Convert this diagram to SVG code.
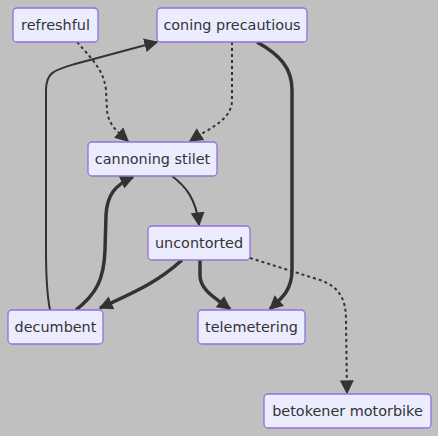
<svg xmlns="http://www.w3.org/2000/svg" width="438" height="436" viewBox="0 0 438 436">
<style>
.node rect{fill:#ececff;stroke:#9370db;stroke-width:1.3}
.node text{font-family:"DejaVu Sans",sans-serif;font-size:14.4px;fill:#333;text-anchor:middle;dominant-baseline:central}
.e{fill:none;stroke:#333}
.n{stroke-width:2}
.t{stroke-width:3.5}
.d{stroke-width:2;stroke-dasharray:3 3}
</style>
<defs>
<marker id="a" viewBox="0 0 10 10" refX="9" refY="5" markerWidth="14" markerHeight="14" markerUnits="userSpaceOnUse" orient="auto">
<path d="M0,0 L10,5 L0,10 z" fill="#333"/>
</marker>
</defs>
<rect width="438" height="436" fill="#c0c0c0"/>
<g id="connectors">
<path class="e d" d="M77,42 C95,62 104,72 106,90 L107,110 C108,125 118,132 128,141" marker-end="url(#a)"/>
<path class="e d" d="M232,42 L232,100 C232,120 210,128 190,141" marker-end="url(#a)"/>
<path class="e t" d="M257,42 C280,55 292,68 292,90 L292,270 C292,290 282,298 270,309" marker-end="url(#a)"/>
<path class="e n" d="M50,310 C46,290 46,270 46,250 L46,90 C46,72 55,70 75,64 L157,42" marker-end="url(#a)"/>
<path class="e t" d="M76,310 C96,294 104,280 105,250 L106,215 C107,195 115,185 133,177" marker-end="url(#a)"/>
<path class="e n" d="M172,176 C185,186 196,198 199,225" marker-end="url(#a)"/>
<path class="e t" d="M182,260 C160,280 140,290 100,308" marker-end="url(#a)"/>
<path class="e t" d="M200,260 L200,275 C200,290 215,298 230,309" marker-end="url(#a)"/>
<path class="e d" d="M250,258 L320,280 C340,287 346,300 346,320 L347,393" marker-end="url(#a)"/>
</g>
<g id="refreshful" class="node"><rect x="13" y="8" width="85" height="34" rx="4"/><text x="55.5" y="25">refreshful</text></g>
<g id="coning-precautious" class="node"><rect x="157" y="8" width="150" height="34" rx="4"/><text x="232" y="25">coning precautious</text></g>
<g id="cannoning-stilet" class="node"><rect x="88" y="142" width="129" height="34" rx="4"/><text x="152.5" y="159">cannoning stilet</text></g>
<g id="uncontorted" class="node"><rect x="148" y="226" width="102" height="34" rx="4"/><text x="199" y="243">uncontorted</text></g>
<g id="decumbent" class="node"><rect x="8" y="310" width="95" height="34" rx="4"/><text x="55.5" y="327">decumbent</text></g>
<g id="telemetering" class="node"><rect x="198" y="310" width="107" height="34" rx="4"/><text x="251.5" y="327">telemetering</text></g>
<g id="betokener-motorbike" class="node"><rect x="264" y="394" width="167" height="34" rx="4"/><text x="347.5" y="411">betokener motorbike</text></g>
</svg>
